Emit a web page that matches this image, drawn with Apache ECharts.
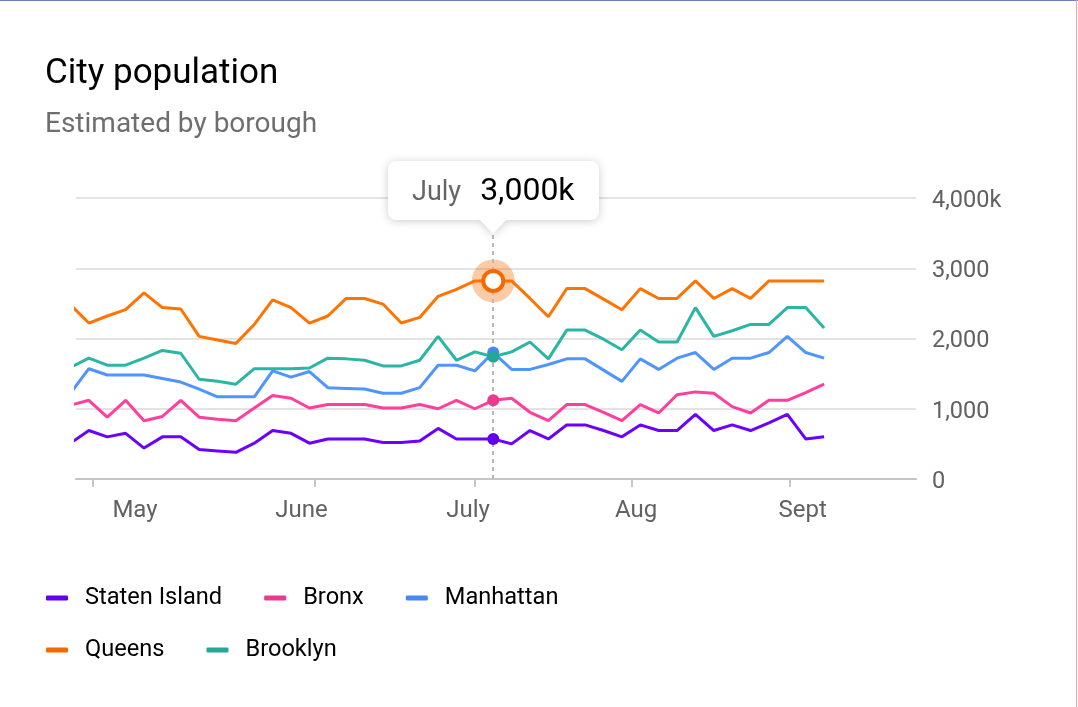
<!DOCTYPE html>
<html>
<head>
<meta charset="utf-8">
<title>City population</title>
<script src="https://cdn.jsdelivr.net/npm/echarts@6/dist/echarts.min.js"></script>
<style>
    html, body { margin: 0; padding: 0; background: #fff; }
    #chart { width: 1078px; height: 707px; }
    .edge-top { position: absolute; left: 0; top: 0; width: 1078px; height: 1px; background: #6d7fc2; }
    .edge-right { position: absolute; left: 1076px; top: 0; width: 1px; height: 707px; background: #f1a89d; }
</style>
</head>
<body>
<div id="chart"></div>
<div class="edge-top"></div>
<div class="edge-right"></div>
<script>
// sample positions on the x axis (one sample every few days), month ticks and where their names sit
const months = ['May', 'June', 'July', 'Aug', 'Sept']
const monthTicks = [1.22, 13.3, 22.0, 30.55, 39.15]
const monthLabelAt = [3.51, 12.57, 21.63, 30.77, 39.83]

// population estimates, thousands
const statenIsland = [510, 690, 600, 650, 440, 600, 600, 420, 400, 380, 510, 690, 650, 510, 570, 570, 570, 520, 520, 540, 720,
    570, 570, 570, 500, 690, 570, 770, 770, 690, 600, 770, 690, 690, 920, 690, 770, 690, 800, 920, 570, 600]
const bronx = [1050, 1120, 880, 1120, 830, 890, 1120, 880, 850, 830, 1010, 1190, 1150, 1010, 1060, 1060, 1060, 1010, 1010, 1060, 1000,
    1120, 1000, 1120, 1150, 950, 830, 1060, 1060, 950, 830, 1060, 940, 1200, 1240, 1220, 1030, 940, 1120, 1120, 1230, 1350]
const manhattan = [1220, 1570, 1480, 1480, 1480, 1430, 1380, 1280, 1170, 1170, 1170, 1540, 1450, 1530, 1300, 1290, 1280, 1220, 1220, 1300, 1620,
    1620, 1540, 1800, 1560, 1560, 1630, 1710, 1710, 1550, 1390, 1710, 1560, 1720, 1800, 1560, 1720, 1720, 1800, 2030, 1800, 1720]
const queens = [2480, 2220, 2320, 2410, 2650, 2440, 2420, 2030, 1980, 1930, 2200, 2550, 2440, 2220, 2320, 2570, 2570, 2490, 2220, 2300, 2600,
    2700, 2820, 2820, 2820, 2570, 2310, 2710, 2710, 2560, 2410, 2710, 2570, 2570, 2820, 2570, 2710, 2570, 2820, 2820, 2820, 2820]
const brooklyn = [1590, 1720, 1620, 1620, 1720, 1830, 1790, 1420, 1390, 1350, 1570, 1570, 1570, 1580, 1720, 1710, 1690, 1610, 1610, 1690, 2030,
    1690, 1810, 1740, 1810, 1950, 1710, 2120, 2120, 1990, 1840, 2120, 1950, 1950, 2440, 2030, 2110, 2200, 2200, 2440, 2440, 2150]

const seriesNames = ['Staten Island', 'Bronx', 'Manhattan', 'Queens', 'Brooklyn']
const seriesValues = [statenIsland, bronx, manhattan, queens, brooklyn]
const seriesColors = ['#6200ee', '#ea3a8e', '#4788f5', '#f46a00', '#27a596']
const samples = queens.map((v, i) => i)

const yMax = 4000
const focusName = 'Queens'
const focusIndex = 23

const font = 'Roboto'
const fmt = v => v.toLocaleString('en-US')

// tooltip shows the estimate rounded to the nearest million
function roundK(v) {
    return Math.round(v / 1000) * 1000
}

function monthOf(x) {
    let name = months[0]
    monthTicks.forEach((t, i) => { if (x >= t) name = months[i] })
    return name
}

const cs = echarts.init(document.getElementById('chart'))

const seriesData = seriesNames.map((name, i) => {
    const focus = name === focusName
    const s = {
        type: 'line',
        name: name,
        data: samples.map((x, j) => [x, seriesValues[i][j]]),
        showSymbol: false,
        symbol: 'circle',
        symbolSize: focus ? 20 : 12,
        lineStyle: { color: seriesColors[i], width: 3 },
        itemStyle: { color: seriesColors[i], borderWidth: 0 },
        emphasis: {
            scale: false,
            lineStyle: { width: 3 },
            itemStyle: focus
                ? { color: '#fff', borderColor: seriesColors[i], borderWidth: 4 }
                : { color: seriesColors[i], borderWidth: 0 }
        }
    }
    if (focus) {
        // soft halo round the hovered point
        s.markPoint = {
            z: 1,
            symbol: 'circle',
            symbolSize: 43,
            itemStyle: { color: 'rgba(244, 106, 0, 0.35)' },
            label: { show: false },
            data: [{ coord: [samples[focusIndex], seriesValues[i][focusIndex]] }]
        }
    }
    return s
})

const legendText = { fontFamily: font, fontSize: 23.6, color: '#000', padding: [0, 0, 0, 12] }

const option = {
    animation: false,
    textStyle: { fontFamily: font },
    title: {
        text: 'City population',
        subtext: 'Estimated by borough',
        left: 45,
        top: 57,
        padding: 0,
        itemGap: 19,
        textStyle: { fontFamily: font, fontSize: 35, fontWeight: 'normal', color: '#000' },
        subtextStyle: { fontFamily: font, fontSize: 28, color: '#6e6e6e' }
    },
    legend: [
        {
            data: seriesNames.slice(0, 3),
            left: 46, top: 586, padding: 0,
            icon: 'roundRect', itemWidth: 22, itemHeight: 5, itemGap: 42,
            textStyle: legendText
        },
        {
            data: seriesNames.slice(3),
            left: 46, top: 638, padding: 0,
            icon: 'roundRect', itemWidth: 22, itemHeight: 5, itemGap: 42,
            textStyle: legendText
        }
    ],
    grid: { left: 76, right: 162, top: 198, bottom: 228 },
    xAxis: {
        type: 'value',
        min: 0.3,
        max: 46,
        splitLine: { show: false },
        axisLine: { lineStyle: { color: '#c6c6c6', width: 2 } },
        axisTick: { customValues: monthTicks, length: 8, lineStyle: { color: '#c6c6c6', width: 2 } },
        axisLabel: {
            customValues: monthLabelAt,
            formatter: v => months[monthLabelAt.indexOf(v)],
            margin: 20,
            fontFamily: font,
            fontSize: 24,
            color: '#616161'
        }
    },
    yAxis: {
        type: 'value',
        position: 'right',
        min: 0,
        max: yMax,
        interval: 1000,
        axisLine: { show: false },
        axisTick: { show: false },
        splitLine: { lineStyle: { color: '#e3e3e3', width: 2 } },
        axisLabel: {
            formatter: v => '{v|' + (v === yMax ? fmt(v) + 'k' : fmt(v)) + '}',
            margin: 16,
            rich: {
                v: { fontFamily: font, fontSize: 23.5, color: '#616161', padding: [6, 0, 0, 0] }
            }
        }
    },
    tooltip: {
        trigger: 'axis',
        alwaysShowContent: true,
        transitionDuration: 0,
        backgroundColor: '#fff',
        borderWidth: 0,
        padding: [12, 24],
        extraCssText: 'border-radius:8px;box-shadow:none;filter:drop-shadow(0 1px 4px rgba(0,0,0,0.2));',
        axisPointer: {
            type: 'line',
            z: 1,
            lineStyle: { color: '#b8b8b8', width: 2, type: [4, 4] }
        },
        position: function (point, params, dom, rect, size) {
            const p = params[0]
            const px = cs.convertToPixel('grid', p.value)
            const top = cs.convertToPixel({ yAxisIndex: 0 }, yMax)
            return [px[0] - size.contentSize[0] / 2, top - 37]
        },
        formatter: function (params) {
            const p = params.find(d => d.seriesName === focusName) || params[0]
            return '<div style="display:flex;align-items:baseline;line-height:33px;font-family:Roboto">' +
                '<span style="font-size:27px;color:#666;margin-right:19px">' + monthOf(p.value[0]) + '</span>' +
                '<span style="font-size:32px;color:#000">' + fmt(roundK(p.value[1])) + 'k</span></div>' +
                '<div style="position:absolute;left:50%;bottom:-14px;margin-left:-14px;width:0;height:0;' +
                'border-left:14px solid transparent;border-right:14px solid transparent;border-top:15px solid #fff"></div>'
        }
    },
    series: seriesData
}

cs.setOption(option)
cs.dispatchAction({ type: 'showTip', seriesIndex: seriesNames.indexOf(focusName), dataIndex: focusIndex })
</script>
</body>
</html>
